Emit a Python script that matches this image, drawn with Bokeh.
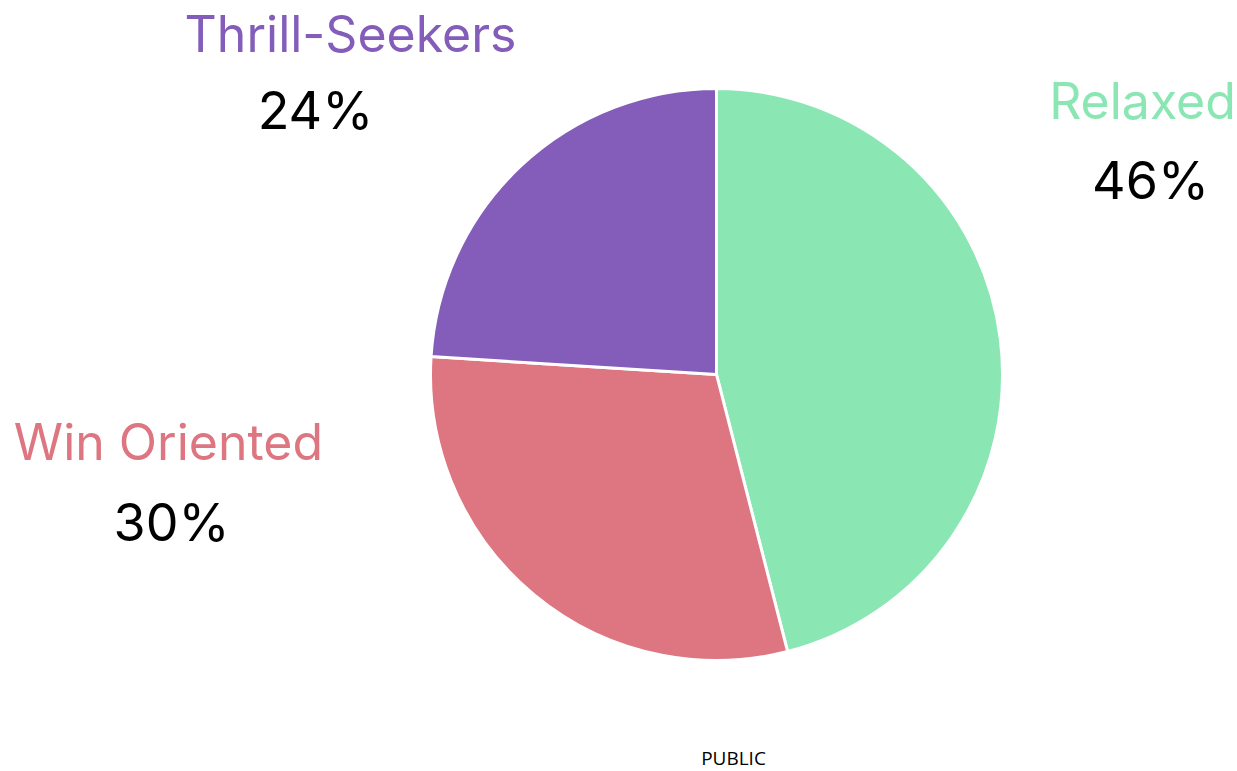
import math
from bokeh.plotting import figure
from bokeh.models import Range1d, ColumnDataSource
from bokeh.core.properties import value
from bokeh.embed import file_html
from bokeh.resources import INLINE

# data
categories = ["Relaxed", "Win Oriented", "Thrill-Seekers"]
shares = [46, 30, 24]
colors = ["#8AE6B3", "#DD7680", "#835DB9"]
pct_labels = ["46%", "30%", "24%"]

W, H = 1237, 771
p = figure(width=W, height=H, output_backend="svg", toolbar_location=None,
           x_range=Range1d(0, W), y_range=Range1d(0, H), min_border=0)
p.axis.visible = False
p.grid.visible = False
p.outline_line_color = None
p.background_fill_color = "white"

cx, cy, r = 716, H - 374, 286
total = sum(shares)
starts, ends = [], []
a = math.pi / 2
for s in shares:
    starts.append(a)
    a -= 2 * math.pi * s / total
    ends.append(a)

src = ColumnDataSource(dict(start=starts, end=ends, color=colors, cat=categories))
p.wedge(x=cx, y=cy, radius=r, start_angle="start", end_angle="end",
        direction="clock", fill_color="color", line_color="white", line_width=3, source=src)

# label layout (pixel positions, top-down)
name_pos = [(1142, 100), (168, 441), (350, 33)]
pct_pos = [(1150, 180), (171, 522), (315, 110)]
font = value("Inter")
p.text(x=[q[0] for q in name_pos], y=[H - q[1] for q in name_pos], text=categories,
       text_color=colors, text_font=font, text_font_size="50px",
       text_align="center", text_baseline="middle")
p.text(x=[q[0] for q in pct_pos], y=[H - q[1] for q in pct_pos], text=pct_labels,
       text_color="black", text_font=font, text_font_size="52px",
       text_align="center", text_baseline="middle")
p.text(x=[733], y=[H - 757], text=["PUBLIC"], text_color="black",
       text_font=value("Open Sans"), text_font_size="19px",
       text_align="center", text_baseline="middle")

open("out.html", "w").write(file_html(p, INLINE))
